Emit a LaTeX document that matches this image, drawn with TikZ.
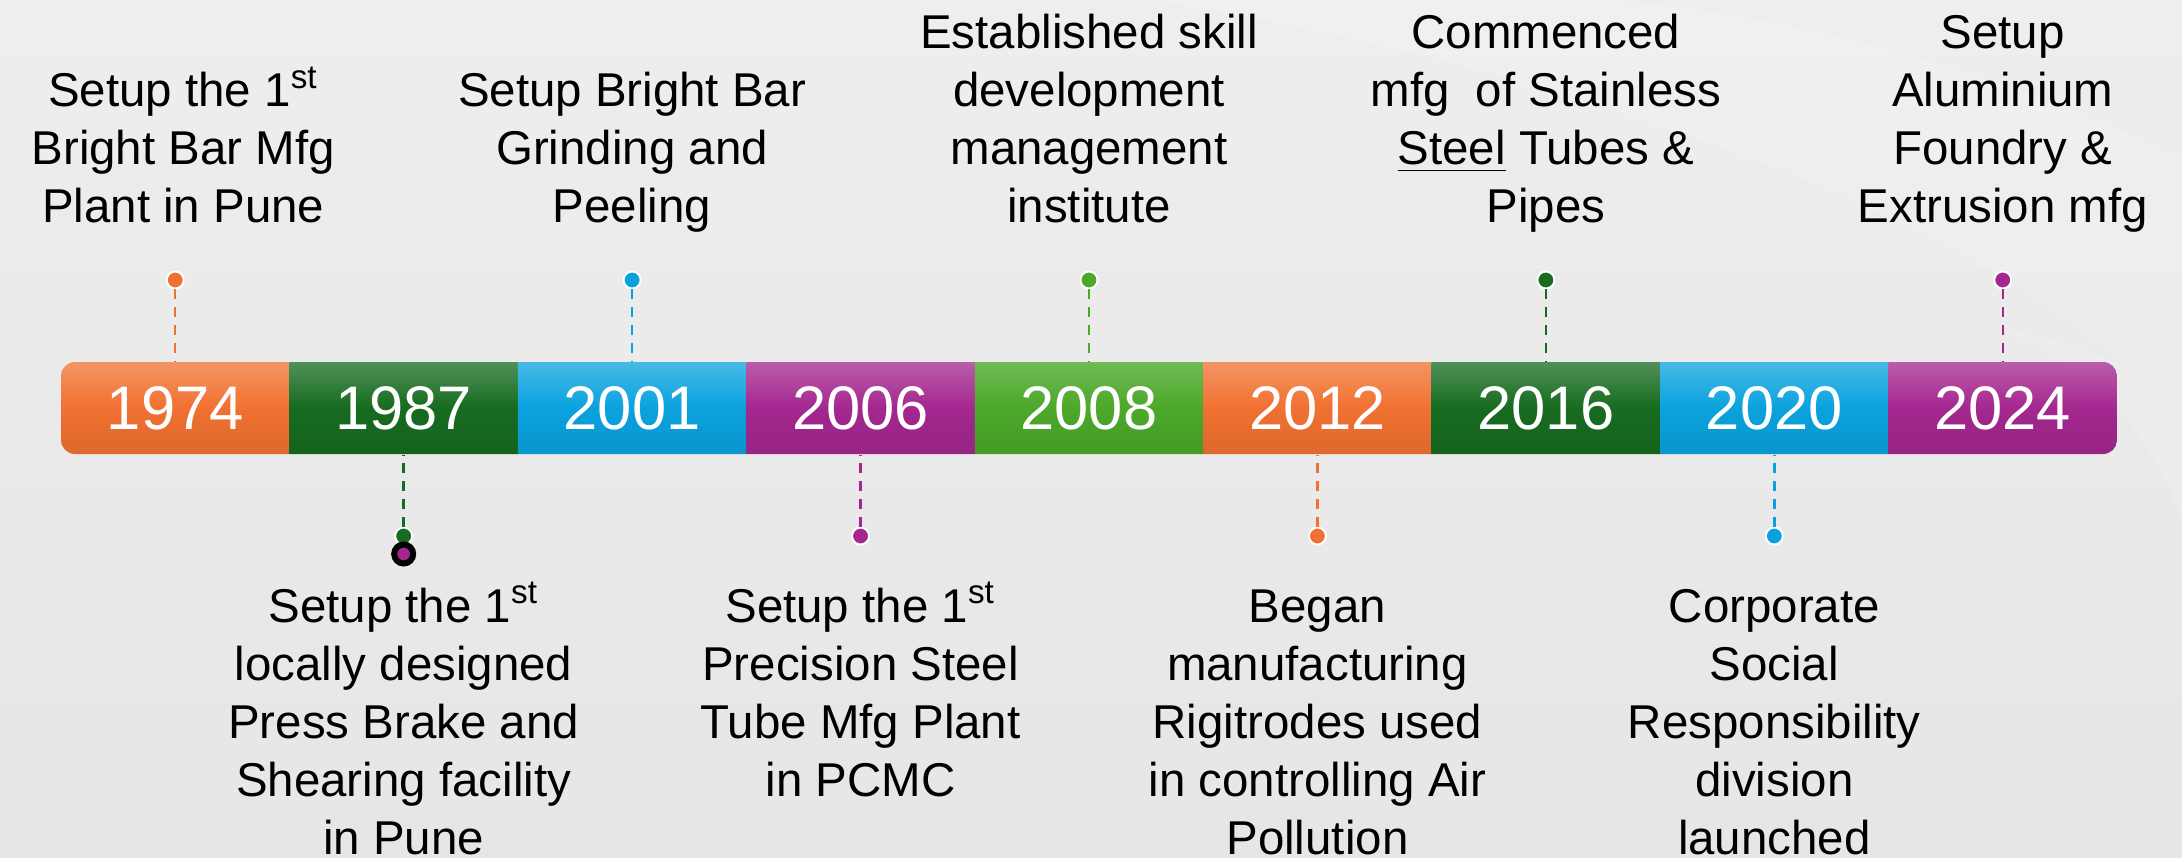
\documentclass[tikz,border=0pt]{standalone}
\usepackage{fontspec}
\setmainfont{Liberation Sans}
\usetikzlibrary{positioning}

\definecolor{cOrange}{HTML}{F07131}
\definecolor{cDGreen}{HTML}{176B20}
\definecolor{cBlue}{HTML}{0AA2DE}
\definecolor{cPurple}{HTML}{A3278F}
\definecolor{cLGreen}{HTML}{4CA82A}
\definecolor{bgTop}{HTML}{EEEEEE}
\definecolor{bgBot}{HTML}{E6E6E6}

\tikzset{
  year/.style={rectangle, minimum width=2.2844cm, minimum height=0.92cm, inner sep=0pt,
    text=white, font=\fontsize{17.5}{20}\selectfont}, % one coloured block of the bar
  orangeblk/.style={top color=cOrange!75!white, bottom color=cOrange!92!black, middle color=cOrange},
  dgreenblk/.style={top color=cDGreen!75!white, bottom color=cDGreen!92!black, middle color=cDGreen},
  blueblk/.style={top color=cBlue!75!white, bottom color=cBlue!92!black, middle color=cBlue},
  purpleblk/.style={top color=cPurple!75!white, bottom color=cPurple!92!black, middle color=cPurple},
  lgreenblk/.style={top color=cLGreen!80!white, bottom color=cLGreen!92!black, middle color=cLGreen},
  dot/.style={circle, draw=white, line width=0.55pt, minimum size=0.17cm, inner sep=0pt}, % marker of an event
  ring/.style={circle, draw=black, fill=cPurple, line width=1.7pt, minimum size=0.19cm, inner sep=0pt},
  link/.style={dash pattern=on 2.8pt off 2.3pt, line width=0.7pt}, % dashed line from marker to bar
  event/.style={align=center, inner sep=0pt, font=\fontsize{13.5}{16.5}\selectfont}, % text of an event
}

\begin{document}
\begin{tikzpicture}[node distance=2.2844cm, on grid]
  % background
  \shade[top color=bgTop, bottom color=bgBot] (0,0) rectangle (21.82,-8.57);
  \fill[white, opacity=0.12] (11.5,0) .. controls (16.5,-0.8) and (20.5,-2.6) .. (21.82,-4.2)
    -- (21.82,-1.6) .. controls (20.5,-0.9) and (18,-0.1) .. (16,0) -- cycle;
  \fill[white, opacity=0.15] (20.0,-3.3) .. controls (20.9,-3.6) and (21.5,-4.3) .. (21.82,-5.2)
    -- (21.82,-4.2) .. controls (21.4,-3.7) and (20.9,-3.4) .. (20.0,-3.3) -- cycle;
  \useasboundingbox (0,0) rectangle (21.82,-8.57);

  % the bar of years
  \begin{scope}
    \clip[rounded corners=0.14cm] (0.61,-3.62) rectangle (21.17,-4.54);
    \node[year, orangeblk] (y1974) at (1.7522,-4.08) {1974};
    \node[year, dgreenblk] (y1987) [right=of y1974] {1987};
    \node[year, blueblk]   (y2001) [right=of y1987] {2001};
    \node[year, purpleblk] (y2006) [right=of y2001] {2006};
    \node[year, lgreenblk] (y2008) [right=of y2006] {2008};
    \node[year, orangeblk] (y2012) [right=of y2008] {2012};
    \node[year, dgreenblk] (y2016) [right=of y2012] {2016};
    \node[year, blueblk]   (y2020) [right=of y2016] {2020};
    \node[year, purpleblk] (y2024) [right=of y2020] {2024};
  \end{scope}

  % markers
  \node[dot, fill=cOrange] (d1974) [above=1.28cm of y1974] {};
  \node[dot, fill=cDGreen] (d1987) [below=1.28cm of y1987] {};
  \node[dot, fill=cBlue]   (d2001) [above=1.28cm of y2001] {};
  \node[dot, fill=cPurple] (d2006) [below=1.28cm of y2006] {};
  \node[dot, fill=cLGreen] (d2008) [above=1.28cm of y2008] {};
  \node[dot, fill=cOrange] (d2012) [below=1.28cm of y2012] {};
  \node[dot, fill=cDGreen] (d2016) [above=1.28cm of y2016] {};
  \node[dot, fill=cBlue]   (d2020) [below=1.28cm of y2020] {};
  \node[dot, fill=cPurple] (d2024) [above=1.28cm of y2024] {};
  \node[ring] (r1987) [below=0.18cm of d1987] {};

  \path
  (d1974) edge[link, draw=cOrange] (y1974)
  (d1987) edge[link, draw=cDGreen] (y1987)
  (d2001) edge[link, draw=cBlue]   (y2001)
  (d2006) edge[link, draw=cPurple] (y2006)
  (d2008) edge[link, draw=cLGreen] (y2008)
  (d2012) edge[link, draw=cOrange] (y2012)
  (d2016) edge[link, draw=cDGreen] (y2016)
  (d2020) edge[link, draw=cBlue]   (y2020)
  (d2024) edge[link, draw=cPurple] (y2024);

  % events above the bar
  \node[event] (e1974) [above=0.39cm of d1974, anchor=south, xshift=0.8mm]
    {Setup the 1\textsuperscript{st}\\Bright Bar Mfg\\Plant in Pune\strut};
  \node[event] (e2001) [above=0.39cm of d2001, anchor=south]
    {Setup Bright Bar\\Grinding and\\Peeling\strut};
  \node[event] (e2008) [above=0.39cm of d2008, anchor=south]
    {Established skill\\development\\management\\institute\strut};
  \node[event] (e2016) [above=0.39cm of d2016, anchor=south]
    {Commenced\\mfg\ \ of Stainless\\\underline{Steel} Tubes \&\\Pipes\strut};
  \node[event] (e2024) [above=0.39cm of d2024, anchor=south]
    {Setup\\Aluminium\\Foundry \&\\Extrusion mfg\strut};

  % events below the bar
  \node[event] (e1987) [below=0.45cm of d1987, anchor=north]
    {\strut Setup the 1\textsuperscript{st}\\locally designed\\Press Brake and\\Shearing facility\\in Pune};
  \node[event] (e2006) [below=0.45cm of d2006, anchor=north]
    {\strut Setup the 1\textsuperscript{st}\\Precision Steel\\Tube Mfg Plant\\in PCMC};
  \node[event] (e2012) [below=0.45cm of d2012, anchor=north]
    {\strut Began\\manufacturing\\Rigitrodes used\\in controlling Air\\Pollution};
  \node[event] (e2020) [below=0.45cm of d2020, anchor=north]
    {\strut Corporate\\Social\\Responsibility\\division\\launched};
\end{tikzpicture}
\end{document}
